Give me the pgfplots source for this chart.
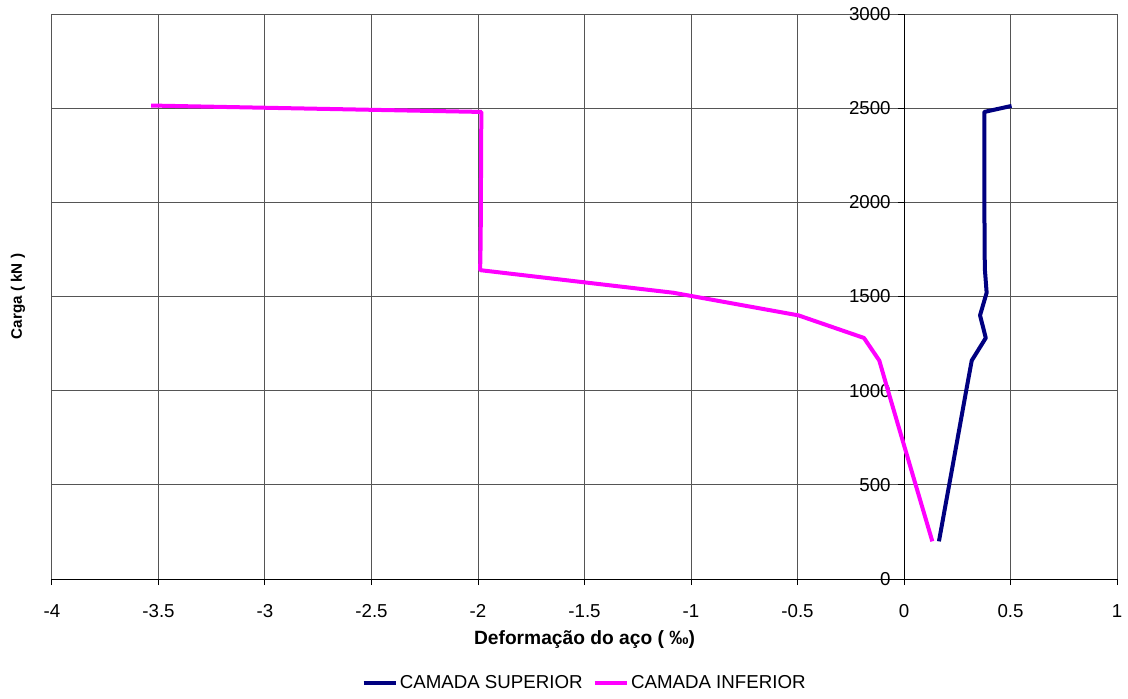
\documentclass[border=0pt]{standalone}
\usepackage{pgfplots}
\pgfplotsset{compat=1.18}
\usepackage{fontspec}
\setmainfont{Liberation Sans}
\usetikzlibrary{calc}
\definecolor{navyc}{RGB}{0,0,128}
\definecolor{magc}{RGB}{255,0,255}
\definecolor{gridc}{RGB}{85,85,85}
\begin{document}
\begin{tikzpicture}[font=\fontsize{9.35}{11}\selectfont]
\begin{axis}[
 scale only axis, width=532.5pt, height=282.5pt,
 xmin=-4, xmax=1, ymin=0, ymax=3000,
 axis x line*=bottom, axis y line*=middle,
 xtick={-4,-3.5,-3,-2.5,-2,-1.5,-1,-0.5,0,0.5,1},
 ytick={0,500,1000,1500,2000,2500,3000},
 hide obscured y ticks=false, hide obscured x ticks=false,
 grid=major, major grid style={gridc, line width=0.5pt},
 axis line style={black, line width=0.5pt, -},
 tick style={black, line width=0.5pt},
 tick align=outside, major tick length=3pt,
 /pgf/number format/assume math mode=true,
 /pgf/number format/1000 sep={},
 scaled ticks=false,
 xticklabel style={anchor=north, inner sep=0pt, yshift=-9.5pt},
 yticklabel style={anchor=east, inner sep=0pt, xshift=-3.5pt},
 xlabel={Deformação do aço ( ‰)},
 xlabel style={at={(axis description cs:0.5,-0.108)}, anchor=center, font=\fontsize{9.6}{11}\selectfont\bfseries},
 ylabel={Carga ( kN )},
 ylabel style={at={(axis description cs:-0.0319,0.5)}, anchor=center, font=\fontsize{7.6}{9}\selectfont\bfseries},
 legend columns=2,
 legend style={at={(axis description cs:0.5,-0.184)}, anchor=center, draw=none, fill=none, inner sep=0pt,
   nodes={inner sep=1pt}, /tikz/every even column/.append style={column sep=4pt}},
 legend image code/.code={\draw[#1, line width=2.2pt] (0pt,0pt) -- (16pt,0pt);},
]
\addplot[navyc, line width=2pt, line join=round] coordinates {
 (0.164,200) (0.241,680) (0.292,1000) (0.318,1160) (0.384,1280) (0.357,1400)
 (0.388,1520) (0.380,1640) (0.378,1760) (0.378,1880) (0.377,2000) (0.377,2120)
 (0.377,2240) (0.377,2360) (0.377,2480) (0.505,2512)
};
\addlegendentry{CAMADA SUPERIOR}
\addplot[magc, line width=2pt, line join=round] coordinates {
 (0.133,200) (0.008,680) (-0.075,1000) (-0.116,1160) (-0.188,1280) (-0.496,1400)
 (-1.083,1520) (-1.99,1640) (-1.988,1760) (-1.987,1880) (-1.986,2000) (-1.986,2120)
 (-1.985,2240) (-1.985,2360) (-1.984,2480) (-3.535,2514)
};
\addlegendentry{CAMADA INFERIOR}
\end{axis}
\pgfresetboundingbox
\useasboundingbox ($(current axis.south west)+(-26pt,-59.5pt)$) rectangle ($(current axis.north east)+(5.5pt,7pt)$);
\end{tikzpicture}
\end{document}
